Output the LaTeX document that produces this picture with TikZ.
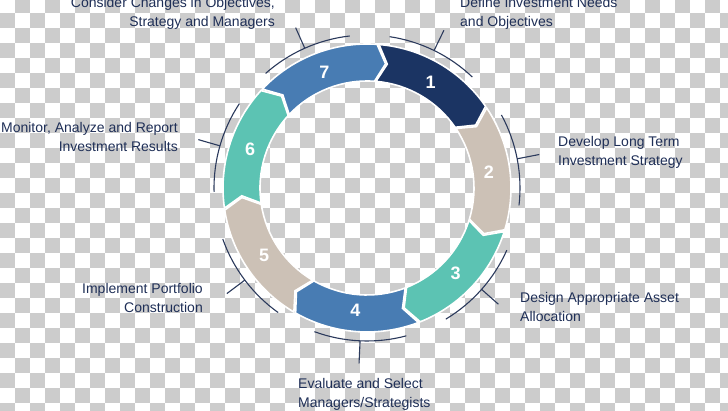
\documentclass[tikz,border=0pt]{standalone}
\usepackage{fontspec}
\setmainfont{Liberation Sans}
\definecolor{checker}{HTML}{CCCCCC}
\definecolor{txtnavy}{HTML}{1F2F57}
\definecolor{linenavy}{HTML}{2B3A5C}
\definecolor{segnavy}{HTML}{1B3463}
\definecolor{segblue}{HTML}{487CB3}
\definecolor{segteal}{HTML}{5CC3B3}
\definecolor{segbeige}{HTML}{CCC1B6}
\tikzset{
  lbl/.style={font={\fontsize{14}{19}\selectfont}, text=txtnavy, inner sep=0pt},
  lblleft/.style={lbl, align=left, anchor=west},
  lblright/.style={lbl, align=right, anchor=east},
  num/.style={font={\fontsize{18}{20}\selectfont\bfseries}, text=white, inner sep=0pt},
  tickline/.style={draw=linenavy, line width=1.1pt},
  segment/.style={draw=white, line width=1.6pt, line join=miter}
}
\begin{document}
\begin{tikzpicture}[x=1pt,y=1pt]
\useasboundingbox (0,0) rectangle (728,411);
% transparency checkerboard
\fill[white] (0,0) rectangle (728,411);
\begin{scope}
\clip (0,0) rectangle (728,411);
\foreach \c in {0,...,48}{
  \foreach \r in {0,...,27}{
    \pgfmathtruncatemacro\chk{mod(\c+\r,2)}
    \ifnum\chk=1
      \fill[checker] ({\c*15},{411+1.7-15*\r-15}) rectangle ++(15,15);
    \fi
  }
}
\end{scope}
% ring
\begin{scope}[shift={(367,223)}]
\foreach \k/\col [count=\i from 0] in {1/segnavy,2/segbeige,3/segteal,4/segblue,5/segbeige,6/segteal,7/segblue}{
  \pgfmathsetmacro\s{86-51.4286*\i-0.8}
  \pgfmathsetmacro\e{86-51.4286*(\i+1)}
  \pgfmathsetmacro\m{(\s+\e)/2-1}
  \path[segment, fill=\col] ({\s}:144) arc[start angle=\s, end angle=\e, radius=144]
     -- ({\e-4.5}:125.5) -- ({\e}:107)
     arc[start angle=\e, end angle=\s, radius=107]
     -- ({\s-4.5}:125.5) -- cycle;
  \node[num] (n\k) at ({\m}:123) {\k};
}
% label arcs and ticks
\foreach \k/\t in {1/64,2/11,3/-41.5,4/-92.6,5/-143,6/164,7/114}{
  \coordinate (ta\k) at ({\t}:153);
  \coordinate (tb\k) at ({\t}:175.5);
  \draw[tickline] ({\t+17.5}:153) arc[start angle=\t+17.5, end angle=\t-17.5, radius=153];
  \draw[tickline] (ta\k) -- (tb\k);
}
\end{scope}
% labels
\node[lblleft] (l1) at (460,397.3) {\strut Define Investment Needs\\\strut and Objectives};
\node[lblleft] (l2) at (558,258.3) {\strut Develop Long Term\\\strut Investment Strategy};
\node[lblleft] (l3) at (520,102.3) {\strut Design Appropriate Asset\\\strut Allocation};
\node[lblleft] (l4) at (298,16.8) {\strut Evaluate and Select\\\strut Managers/Strategists};
\node[lblright] (l5) at (203,111.3) {\strut Implement Portfolio\\\strut Construction};
\node[lblright] (l6) at (178,272.3) {\strut Monitor, Analyze and Report\\\strut Investment Results};
\node[lblright] (l7) at (275,397.3) {\strut Consider Changes in Objectives,\\\strut Strategy and Managers};
\end{tikzpicture}
\end{document}
